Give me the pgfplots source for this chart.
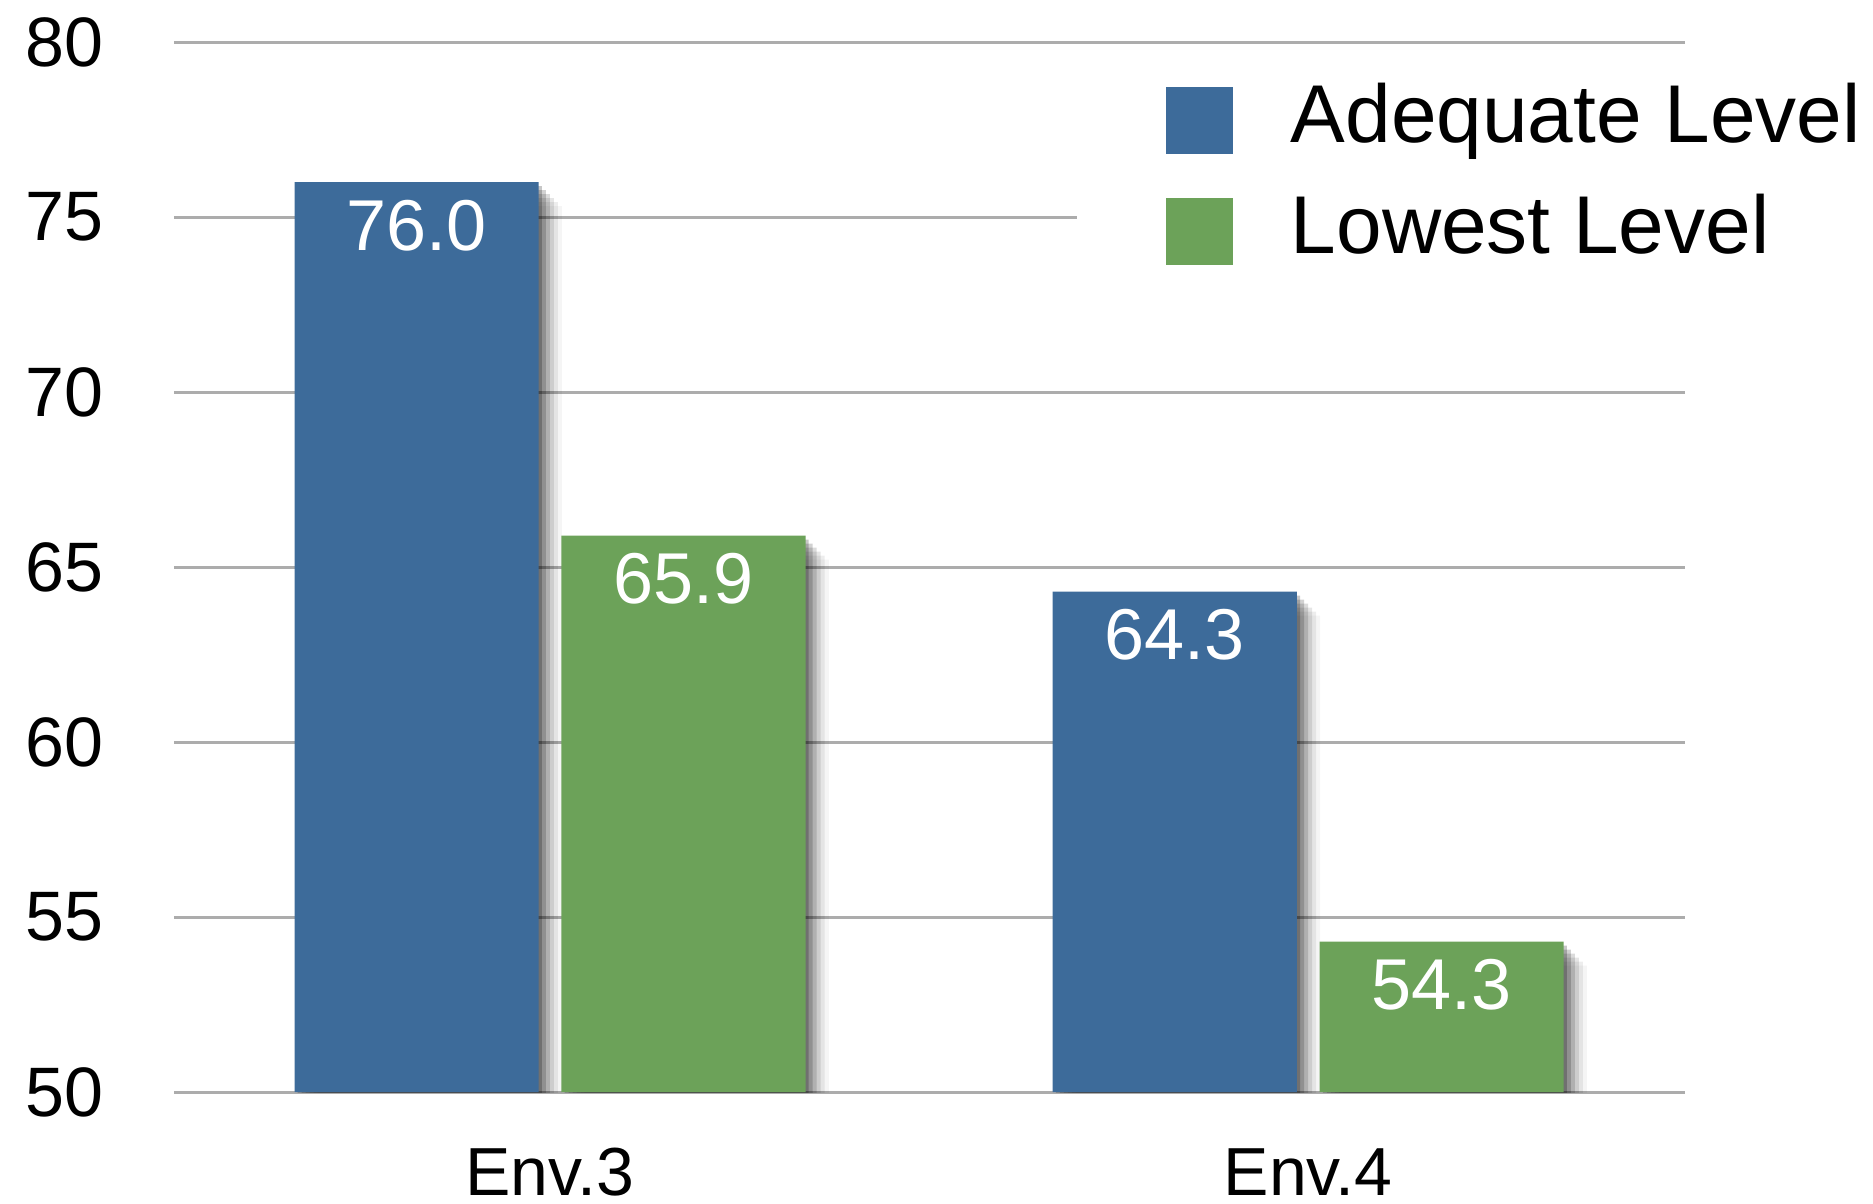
\documentclass[border=0pt]{standalone}
\usepackage{fontspec}
\setmainfont{Liberation Sans}
\usepackage{pgfplots}
\pgfplotsset{compat=1.18}
\usetikzlibrary{shadows}
\definecolor{barblue}{RGB}{61,107,154}
\definecolor{bargreen}{RGB}{108,162,89}
\definecolor{gridgray}{RGB}{172,172,172}
\tikzset{barshadow/.style={
  drop shadow={shadow xshift=0.8pt, shadow yshift=-1.0pt, fill=black, opacity=0.22},
  drop shadow={shadow xshift=1.8pt, shadow yshift=-2.0pt, fill=black, opacity=0.18},
  drop shadow={shadow xshift=2.8pt, shadow yshift=-3.0pt, fill=black, opacity=0.14},
  drop shadow={shadow xshift=3.8pt, shadow yshift=-4.0pt, fill=black, opacity=0.10},
  drop shadow={shadow xshift=4.8pt, shadow yshift=-5.0pt, fill=black, opacity=0.07},
  drop shadow={shadow xshift=5.8pt, shadow yshift=-6.0pt, fill=black, opacity=0.04}}}
\begin{document}
\begin{tikzpicture}
\begin{axis}[
  at={(0pt,0pt)}, anchor=south west,
  scale only axis, width=377.75pt, height=262.5pt,
  xmin=-0.496, xmax=1.497, ymin=50, ymax=80,
  ytick={50,55,...,80},
  xtick={0,1}, xticklabels={Env.3,Env.4},
  ymajorgrids, grid style={gridgray, line width=0.75pt},
  axis line style={draw=none}, tick style={draw=none},
  yticklabel style={font=\fontsize{17.5}{21}\selectfont, xshift=-14.2pt},
  xticklabel style={font=\fontsize{17}{20}\selectfont, yshift=-6.3pt, text depth=0pt},
  /pgf/number format/assume math mode=true,
  ybar, bar width=0.322,
  nodes near coords={\pgfmathprintnumber[fixed,fixed zerofill,precision=1]{\pgfplotspointmeta}},
  every node near coord/.append style={anchor=north, text=white, font=\fontsize{18}{21}\selectfont, yshift=-0.9pt},
  legend style={draw=none, fill=white, inner xsep=22.25pt, inner ysep=2pt,
    at={(0.597,0.9735)}, anchor=north west,
    font=\fontsize{20.5}{24}\selectfont, column sep=14.5pt, row sep=7.75pt,
    nodes={inner sep=0pt, text height=16pt, text depth=4pt}},
  legend cell align=left,
  legend image code/.code={\fill[#1] (0pt,-8.75pt) rectangle (16.75pt,8pt);},
]
\addplot[fill=barblue, draw=none, bar shift=-0.176, barshadow, forget plot]
  coordinates {(0,76.0) (1,64.3)};
\addplot[fill=bargreen, draw=none, bar shift=0.176, barshadow, forget plot]
  coordinates {(0,65.9) (1,54.3)};
\addlegendimage{fill=barblue, draw=none}
\addlegendentry{Adequate Level}
\addlegendimage{fill=bargreen, draw=none}
\addlegendentry{Lowest Level}
\end{axis}
\pgfresetboundingbox
\path (-43.5pt,-27.75pt) rectangle (424.75pt,273pt);
\end{tikzpicture}
\end{document}
